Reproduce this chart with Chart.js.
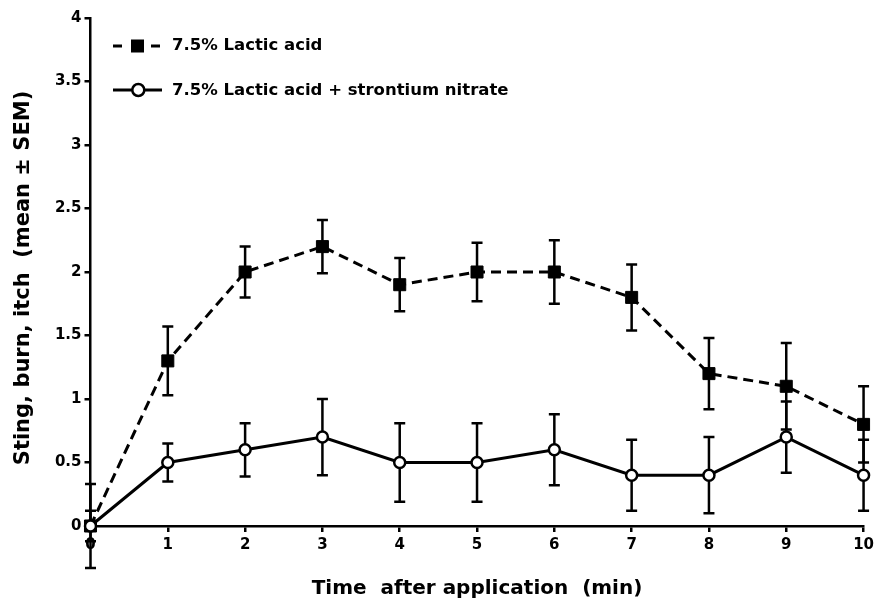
<!DOCTYPE html>
<html>
<head>
<meta charset="utf-8">
<script src="https://cdn.jsdelivr.net/npm/chart.js@4.4.1/dist/chart.umd.min.js"></script>
<style>
  html, body { margin: 0; padding: 0; background: #fff; }
  #wrap { width: 878px; height: 599px; }
</style>
</head>
<body>
<div id="wrap"><canvas id="stingChart" width="878" height="599"></canvas></div>
<script>
// minutes after application
const minutes = [0, 1, 2, 3, 4, 5, 6, 7, 8, 9, 10];

// 7.5% lactic acid alone
const lacticMean = [0, 1.3, 2.0, 2.2, 1.9, 2.0, 2.0, 1.8, 1.2, 1.1, 0.8];
const lacticSem  = [0.33, 0.27, 0.2, 0.21, 0.21, 0.23, 0.25, 0.26, 0.28, 0.34, 0.3];

// 7.5% lactic acid + strontium nitrate
const strontiumMean = [0, 0.5, 0.6, 0.7, 0.5, 0.5, 0.6, 0.4, 0.4, 0.7, 0.4];
const strontiumSem  = [0.12, 0.15, 0.21, 0.3, 0.31, 0.31, 0.28, 0.28, 0.3, 0.28, 0.28];

const yTickValues = [0, 0.5, 1, 1.5, 2, 2.5, 3, 3.5, 4];
const yTickLabels = ['0', '0.5', '1', '1.5', '2', '2.5', '3', '3.5', '4'];

const legendLabels = ['7.5% Lactic acid', '7.5% Lactic acid + strontium nitrate'];
const xTitle = 'Time  after application  (min)';
const yTitle = 'Sting, burn, itch  (mean \u00b1 SEM)';

const FONT = '"DejaVu Sans", sans-serif';
const INK = '#000';

function toPoints(means) {
  return minutes.map((m, i) => ({ x: m, y: means[i] }));
}

// vertical SEM whiskers with caps, drawn under the markers
const errorBars = {
  id: 'errorBars',
  beforeDatasetsDraw(chart) {
    const { ctx } = chart;
    const xs = chart.scales.x, ys = chart.scales.y;
    ctx.save();
    ctx.strokeStyle = INK;
    ctx.lineWidth = 2.5;
    [[lacticMean, lacticSem], [strontiumMean, strontiumSem]].forEach(([means, sems]) => {
      means.forEach((m, i) => {
        const px = xs.getPixelForValue(minutes[i]);
        const top = ys.getPixelForValue(m + sems[i]);
        const bot = ys.getPixelForValue(m - sems[i]);
        ctx.beginPath();
        ctx.moveTo(px, top); ctx.lineTo(px, bot);
        ctx.moveTo(px - 5.5, top); ctx.lineTo(px + 5.5, top);
        ctx.moveTo(px - 5.5, bot); ctx.lineTo(px + 5.5, bot);
        ctx.stroke();
      });
    });
    ctx.restore();
  }
};

// axis titles and the boxed-less legend in the upper left
const decorations = {
  id: 'decorations',
  afterDraw(chart) {
    const { ctx } = chart;
    ctx.save();
    ctx.fillStyle = INK;
    ctx.strokeStyle = INK;

    // x title
    ctx.font = 'bold 20px ' + FONT;
    ctx.textAlign = 'center';
    ctx.textBaseline = 'alphabetic';
    ctx.fillText(xTitle, 477, 594);

    // y title
    ctx.save();
    ctx.translate(29, 278);
    ctx.rotate(-Math.PI / 2);
    ctx.font = 'bold 21px ' + FONT;
    ctx.fillText(yTitle, 0, 0);
    ctx.restore();

    // legend row 1: dashed line with filled square
    ctx.lineWidth = 3;
    ctx.setLineDash([9, 29]);
    ctx.beginPath();
    ctx.moveTo(113, 46); ctx.lineTo(161, 46);
    ctx.stroke();
    ctx.setLineDash([]);
    ctx.fillRect(131, 39.5, 13, 13);

    // legend row 2: solid line with open circle
    ctx.beginPath();
    ctx.moveTo(113, 90); ctx.lineTo(162, 90);
    ctx.stroke();
    ctx.beginPath();
    ctx.arc(138.3, 90, 6, 0, Math.PI * 2);
    ctx.fillStyle = '#fff';
    ctx.fill();
    ctx.lineWidth = 2.5;
    ctx.stroke();

    ctx.fillStyle = INK;
    ctx.font = 'bold 16.5px ' + FONT;
    ctx.textAlign = 'left';
    ctx.textBaseline = 'middle';
    ctx.fillText(legendLabels[0], 172, 46);
    ctx.fillText(legendLabels[1], 172, 91);
    ctx.restore();
  }
};

const axisGrid = {
  display: true,
  drawOnChartArea: false,
  drawTicks: true,
  tickLength: 6,
  color: INK,
  lineWidth: 2.5
};
const axisBorder = { display: true, color: INK, width: 2.5 };
const tickFont = { family: FONT, size: 15, weight: 'bold' };

new Chart(document.getElementById('stingChart'), {
  type: 'line',
  data: {
    datasets: [
      {
        label: legendLabels[0],
        data: toPoints(lacticMean),
        borderColor: INK,
        borderWidth: 3,
        borderDash: [10, 6],
        pointStyle: 'rect',
        pointRadius: 8.5,
        pointBackgroundColor: INK,
        pointBorderColor: INK,
        pointBorderWidth: 1,
        tension: 0,
        clip: false,
        order: 1
      },
      {
        label: legendLabels[1],
        data: toPoints(strontiumMean),
        borderColor: INK,
        borderWidth: 3,
        pointStyle: 'circle',
        pointRadius: 5.5,
        pointBackgroundColor: '#fff',
        pointBorderColor: INK,
        pointBorderWidth: 2.5,
        tension: 0,
        clip: false,
        order: 0
      }
    ]
  },
  options: {
    responsive: false,
    animation: false,
    events: [],
    layout: { padding: { top: 18, right: 11, left: 0, bottom: 0 } },
    plugins: {
      legend: { display: false },
      tooltip: { enabled: false }
    },
    scales: {
      x: {
        type: 'linear',
        min: 0,
        max: 10,
        afterBuildTicks: s => { s.ticks = minutes.map(v => ({ value: v })); },
        afterFit: s => { s.height = 73; },
        grid: axisGrid,
        border: axisBorder,
        ticks: { color: INK, font: tickFont, padding: 4, maxRotation: 0, autoSkip: false }
      },
      y: {
        type: 'linear',
        min: 0,
        max: 4,
        afterBuildTicks: s => { s.ticks = yTickValues.map(v => ({ value: v })); },
        afterFit: s => { s.width = 90.5; },
        grid: axisGrid,
        border: axisBorder,
        ticks: {
          color: INK,
          font: tickFont,
          padding: 3,
          callback: v => yTickLabels[yTickValues.indexOf(v)]
        }
      }
    }
  },
  plugins: [errorBars, decorations]
});
</script>
</body>
</html>
